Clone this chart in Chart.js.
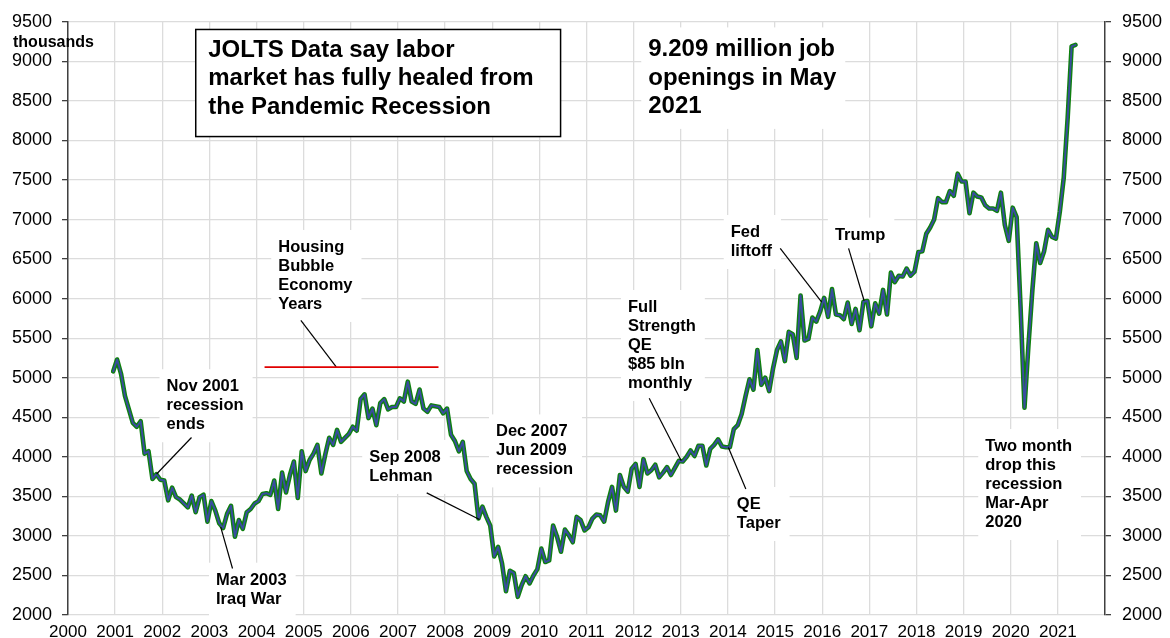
<!DOCTYPE html>
<html>
<head>
<meta charset="utf-8">
<script src="https://cdn.jsdelivr.net/npm/chart.js@4.4.1/dist/chart.umd.min.js"></script>
<style>
  html, body { margin: 0; padding: 0; background: #fff; }
  #wrap { width: 1170px; height: 638px; position: relative; }
</style>
</head>
<body>
<div id="wrap"><canvas id="jolts"></canvas></div>
<script>
// JOLTS job openings, thousands, monthly from Dec 2000 to May 2021
const years = [2000, 2001, 2002, 2003, 2004, 2005, 2006, 2007, 2008, 2009, 2010,
  2011, 2012, 2013, 2014, 2015, 2016, 2017, 2018, 2019, 2020, 2021];
const firstMonth = 11; // series starts in December 2000

const openings = [
  5080,
  5230, 5050, 4770, 4600, 4430, 4380, 4450, 4040, 4070, 3720, 3780, 3710, // 2001
  3700, 3450, 3610, 3490, 3460, 3410, 3360, 3510, 3300, 3490, 3520, 3180, // 2002
  3440, 3320, 3160, 3100, 3280, 3380, 2990, 3200, 3090, 3300, 3340, 3410, // 2003
  3440, 3530, 3540, 3520, 3700, 3340, 3800, 3550, 3770, 3940, 3480, 4070, // 2004
  3820, 3960, 4040, 4150, 3790, 4030, 4240, 4150, 4340, 4190, 4240, 4290, // 2005
  4380, 4330, 4730, 4790, 4490, 4610, 4400, 4680, 4730, 4600, 4630, 4630, // 2006
  4740, 4700, 4950, 4700, 4670, 4850, 4610, 4570, 4650, 4640, 4630, 4550, // 2007
  4610, 4280, 4200, 4070, 4190, 3820, 3720, 3660, 3220, 3370, 3240, 3130, // 2008
  2740, 2860, 2650, 2300, 2560, 2530, 2230, 2380, 2490, 2400, 2500, 2580, // 2009
  2840, 2670, 2690, 3130, 2990, 2800, 3080, 3010, 2920, 3240, 3200, 3070, // 2010
  3110, 3220, 3270, 3260, 3180, 3430, 3620, 3320, 3770, 3620, 3560, 3850, // 2011
  3910, 3620, 3970, 3790, 3830, 3900, 3740, 3800, 3870, 3770, 3860, 3950, // 2012
  3940, 4000, 4080, 4010, 4140, 4140, 3890, 4100, 4150, 4220, 4130, 4120, // 2013
  4120, 4350, 4400, 4540, 4770, 4980, 4850, 5350, 4910, 5000, 4830, 5120, // 2014
  5350, 5460, 5210, 5580, 5550, 5250, 6040, 5470, 5490, 5760, 5710, 5840, // 2015
  6010, 5770, 6120, 5800, 5790, 5740, 5950, 5680, 5870, 5600, 5960, 5970, // 2016
  5650, 5940, 5810, 6110, 5800, 6330, 6210, 6290, 6280, 6380, 6290, 6340, // 2017
  6590, 6600, 6820, 6900, 7000, 7270, 7220, 7220, 7360, 7300, 7580, 7480, // 2018
  7480, 7080, 7340, 7290, 7280, 7180, 7140, 7140, 7110, 7340, 6930, 6730, // 2019
  7150, 7030, 5900, 4620, 5400, 6100, 6700, 6450, 6600, 6870, 6780, 6760, // 2020
  7100, 7530, 8290, 9190, 9209                                             // 2021
];

const yTickValues = [2000, 2500, 3000, 3500, 4000, 4500, 5000, 5500,
  6000, 6500, 7000, 7500, 8000, 8500, 9000, 9500];

const FONT = '"Liberation Sans", Arial, Helvetica, sans-serif';

// text boxes: left x (years), centre of first line (thousands)
const notes = [
  { lines: ['Housing', 'Bubble', 'Economy', 'Years'], x: 2004.46, y: 6647 },
  { lines: ['Nov 2001', 'recession', 'ends'], x: 2002.09, y: 4886 },
  { lines: ['Mar 2003', 'Iraq War'], x: 2003.14, y: 2440 },
  { lines: ['Sep 2008', 'Lehman'], x: 2006.39, y: 3992 },
  { lines: ['Dec 2007', 'Jun 2009', 'recession'], x: 2009.08, y: 4315 },
  { lines: ['Full', 'Strength', 'QE', '$85 bln', 'monthly'], x: 2011.88, y: 5888 },
  { lines: ['QE', 'Taper'], x: 2014.19, y: 3397 },
  { lines: ['Fed', 'liftoff'], x: 2014.06, y: 6836 },
  { lines: ['Trump'], x: 2016.27, y: 6803 },
  { lines: ['Two month', 'drop this', 'recession', 'Mar-Apr', '2020'], x: 2019.46, y: 4130 },
  { lines: ['9.209 million job', 'openings in May', '2021'], x: 2012.31, y: 9148, size: 24, lh: 28.5 }
];

// pointer lines [x1, y1, x2, y2]
const leaders = [
  [2004.94, 5725, 2005.69, 5137],
  [2002.62, 4244, 2001.88, 3783],
  [2003.49, 2588, 2003.24, 3111],
  [2007.61, 3544, 2008.73, 3208],
  [2012.33, 4740, 2013.01, 3951],
  [2014.38, 3594, 2014.01, 4118],
  [2015.11, 6635, 2015.99, 5955],
  [2016.56, 6635, 2016.89, 5973]
];

const bubbleLine = [2004.17, 2007.86, 5133];

const titleLines = ['JOLTS Data say labor', 'market has fully healed from', 'the Pandemic Recession'];
const titleBox = { x1: 2002.71, x2: 2010.45, y1: 9403, y2: 8049 };

const points = openings.map((v, i) => ({ x: years[0] + (firstMonth + i + 0.5) / 12, y: v }));

function drawNote(ctx, sx, sy, n) {
  const size = n.size || 16.5;
  const lh = n.lh || 19;
  ctx.font = 'bold ' + size + 'px ' + FONT;
  const px = sx.getPixelForValue(n.x);
  const py = sy.getPixelForValue(n.y);
  let w = 0;
  n.lines.forEach(t => { w = Math.max(w, ctx.measureText(t).width); });
  ctx.fillStyle = '#fff';
  ctx.fillRect(px - 7, py - lh / 2 - 8, w + 16, n.lines.length * lh + 16);
  ctx.fillStyle = '#000';
  ctx.textAlign = 'left';
  ctx.textBaseline = 'middle';
  n.lines.forEach((t, i) => ctx.fillText(t, px, py + i * lh));
}

const annotate = {
  id: 'annotate',
  beforeDatasetsDraw(chart) {
    const ctx = chart.ctx;
    const sx = chart.scales.x, sy = chart.scales.y;
    ctx.save();
    // title box
    const bx = sx.getPixelForValue(titleBox.x1), by = sy.getPixelForValue(titleBox.y1);
    const bw = sx.getPixelForValue(titleBox.x2) - bx, bh = sy.getPixelForValue(titleBox.y2) - by;
    ctx.fillStyle = '#fff';
    ctx.fillRect(bx, by, bw, bh);
    ctx.strokeStyle = '#000';
    ctx.lineWidth = 1.5;
    ctx.strokeRect(bx, by, bw, bh);
    ctx.fillStyle = '#000';
    ctx.font = 'bold 24px ' + FONT;
    ctx.textBaseline = 'middle';
    titleLines.forEach((t, i) => ctx.fillText(t, bx + 12.5, by + 20.5 + i * 28.5));

    notes.forEach(n => drawNote(ctx, sx, sy, n));
    ctx.restore();
  },
  afterDatasetsDraw(chart) {
    const ctx = chart.ctx;
    const sx = chart.scales.x, sy = chart.scales.y;
    ctx.save();
    ctx.strokeStyle = '#000';
    ctx.lineWidth = 1.2;
    leaders.forEach(l => {
      ctx.beginPath();
      ctx.moveTo(sx.getPixelForValue(l[0]), sy.getPixelForValue(l[1]));
      ctx.lineTo(sx.getPixelForValue(l[2]), sy.getPixelForValue(l[3]));
      ctx.stroke();
    });
    ctx.strokeStyle = '#e00000';
    ctx.lineWidth = 1.8;
    ctx.beginPath();
    ctx.moveTo(sx.getPixelForValue(bubbleLine[0]), sy.getPixelForValue(bubbleLine[2]));
    ctx.lineTo(sx.getPixelForValue(bubbleLine[1]), sy.getPixelForValue(bubbleLine[2]));
    ctx.stroke();

    // unit label above left axis
    ctx.fillStyle = '#000';
    ctx.font = 'bold 16px ' + FONT;
    ctx.textAlign = 'left';
    ctx.textBaseline = 'middle';
    ctx.fillText('thousands', 13, chart.chartArea.top + 21);
    ctx.restore();
  }
};

const yAxis = (pos, width) => ({
  type: 'linear',
  position: pos,
  min: 2000,
  max: 9500,
  afterBuildTicks: s => { s.ticks = yTickValues.map(v => ({ value: v })); },
  afterFit: s => { s.width = width; },
  border: { display: true, color: '#404040', width: 1.5 },
  grid: {
    display: true,
    drawOnChartArea: pos === 'left',
    color: '#dcdcdc',
    lineWidth: 1.3,
    tickColor: '#404040',
    tickLength: 6
  },
  ticks: {
    color: '#000',
    padding: pos === 'left' ? 10 : 11,
    font: { family: FONT, size: 18 },
    callback: v => String(v)
  }
});

const lineStyle = { pointRadius: 0, tension: 0, borderJoinStyle: 'round', borderCapStyle: 'round' };

new Chart(document.getElementById('jolts'), {
  type: 'line',
  data: {
    datasets: [
      Object.assign({ data: points, borderColor: '#3a4ca0', borderWidth: 1.9 }, lineStyle),
      Object.assign({ data: points, borderColor: '#0e800e', borderWidth: 4.6 }, lineStyle)
    ]
  },
  options: {
    responsive: true,
    maintainAspectRatio: false,
    animation: false,
    layout: { padding: { top: 19, left: 0, right: 0, bottom: 0 } },
    plugins: { legend: { display: false }, tooltip: { enabled: false } },
    scales: {
      x: {
        type: 'linear',
        min: 2000,
        max: 2022,
        afterBuildTicks: s => { s.ticks = years.map(v => ({ value: v })); },
        afterFit: s => { s.height = 23; },
        border: { display: false },
        grid: { color: '#dcdcdc', lineWidth: 1.3, drawTicks: false },
        ticks: {
          color: '#000',
          padding: 7,
          autoSkip: false,
          maxRotation: 0,
          font: { family: FONT, size: 17 },
          callback: v => String(v)
        }
      },
      y: yAxis('left', 68),
      y2: yAxis('right', 65)
    }
  },
  plugins: [annotate]
});
</script>
</body>
</html>
